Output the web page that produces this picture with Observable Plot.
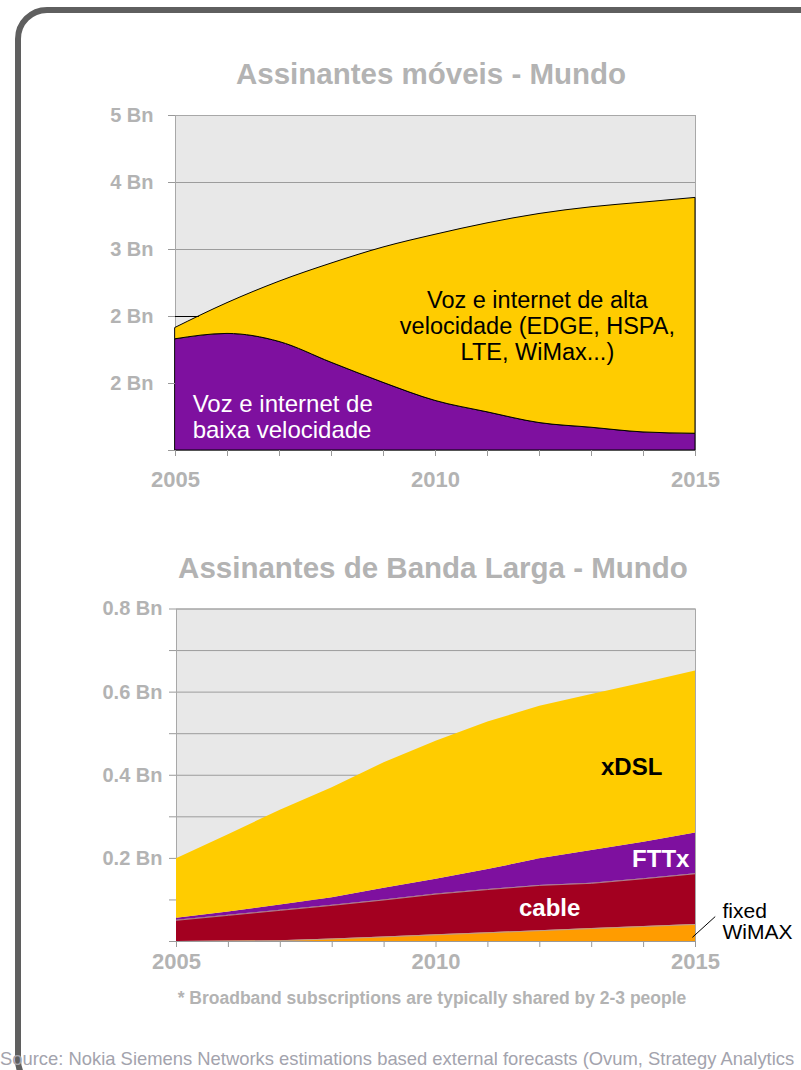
<!DOCTYPE html>
<html><head><meta charset="utf-8">
<script src="https://cdn.jsdelivr.net/npm/d3@7"></script>
<script src="https://cdn.jsdelivr.net/npm/@observablehq/plot@0.6"></script>
<style>
html,body{margin:0;padding:0;background:#fff;width:801px;height:1070px;overflow:hidden;position:relative;font-family:Arial,"Liberation Sans",sans-serif}
#frame{position:absolute;left:15px;top:7px;width:900px;height:1085px;border:6px solid #5f5f5f;border-radius:32px;box-sizing:border-box}
.title{position:absolute;transform:translateX(-50%);white-space:nowrap;font-weight:bold;color:#b3b3b3;font-size:29.5px;line-height:29.5px}
.chart{position:absolute;left:0}
#note{position:absolute;left:432px;top:990px;transform:translateX(-50%);white-space:nowrap;font-weight:bold;color:#b3b3b3;font-size:17.5px;line-height:17.5px}
#source{position:absolute;left:0;top:1050px;white-space:nowrap;color:#a3a3ad;font-size:18.4px;line-height:18.4px}
</style></head>
<body>
<div id="frame"></div>
<div class="title" style="left:431px;top:59px">Assinantes móveis - Mundo</div>
<div class="chart" id="c1" style="top:100px"></div>
<div class="title" style="left:433px;top:553px">Assinantes de Banda Larga - Mundo</div>
<div class="chart" id="c2" style="top:590px"></div>
<div id="note">* Broadband subscriptions are typically shared by 2-3 people</div>
<div id="source">Source: Nokia Siemens Networks estimations based external forecasts (Ovum, Strategy Analytics</div>
<script>
// ---- data ----
const years = [2005, 2006, 2007, 2008, 2009, 2010, 2011, 2012, 2013, 2014, 2015];
const yearLabels = ["2005", "2010", "2015"];

// Mobile subscribers (Bn)
const mobileSeries = ["Voz e internet de baixa velocidade", "Voz e internet de alta velocidade"];
const lowSpeed  = [1.66, 1.74, 1.62, 1.31, 1.01, 0.74, 0.57, 0.41, 0.34, 0.27, 0.25];
const highSpeed = [0.17, 0.46, 0.90, 1.48, 2.02, 2.48, 2.82, 3.12, 3.29, 3.43, 3.52];
const mobileTicks = [0, 1, 2, 3, 4, 5];
const mobileTickLabels = ["", "2 Bn", "2 Bn", "3 Bn", "4 Bn", "5 Bn"];

// Broadband subscribers (Bn)
const bbSeries = ["fixed WiMAX", "cable", "FTTx", "xDSL"];
const wimax = [0.000, 0.001, 0.002, 0.006, 0.011, 0.016, 0.021, 0.026, 0.031, 0.036, 0.041];
const cable = [0.051, 0.062, 0.073, 0.081, 0.089, 0.098, 0.104, 0.109, 0.109, 0.115, 0.122];
const fttx  = [0.005, 0.008, 0.013, 0.018, 0.028, 0.036, 0.048, 0.064, 0.079, 0.088, 0.098];
const xdsl  = [0.143, 0.186, 0.228, 0.265, 0.302, 0.332, 0.355, 0.367, 0.375, 0.383, 0.390];
const bbTicks = [0, 0.1, 0.2, 0.3, 0.4, 0.5, 0.6, 0.7, 0.8];
const bbTickLabels = ["", "", "0.2 Bn", "", "0.4 Bn", "", "0.6 Bn", "", "0.8 Bn"];

// ---- tables ----
const mobileValues = [lowSpeed, highSpeed];
const mobileData = mobileSeries.flatMap((s, i) => years.map((y, j) => ({year: y, series: s, value: mobileValues[i][j]})));
const totals = years.map((y, j) => lowSpeed[j] + highSpeed[j]);
// where the total first crosses the 2 Bn gridline
let cross = years[0];
for (let j = 0; j < years.length - 1; j++) {
  if (totals[j] <= 2 && totals[j + 1] > 2) { cross = years[j] + (2 - totals[j]) / (totals[j + 1] - totals[j]); break; }
}

const bbValues = [wimax, cable, fttx, xdsl];
const bbData = bbSeries.flatMap((s, i) => years.map((y, j) => ({year: y, series: s, value: bbValues[i][j]})));
const bbEdges = [];
let cum = years.map(() => 0);
for (let i = 0; i < 2; i++) {
  cum = cum.map((c, j) => c + bbValues[i][j]);
  years.forEach((y, j) => bbEdges.push({year: y, series: bbSeries[i], top: cum[j]}));
}

const font = "Arial, 'Liberation Sans', sans-serif";
const grey = "#b3b3b3";
const fmtYear = d => yearLabels.includes(String(d)) ? String(d) : "";

const p1 = Plot.plot({
  width: 801, height: 400,
  marginLeft: 175, marginRight: 106, marginTop: 15, marginBottom: 50,
  style: {fontFamily: font, background: "transparent", overflow: "visible"},
  x: {domain: [2005, 2015]},
  y: {domain: [0, 5]},
  color: {domain: mobileSeries, range: ["#7e109f", "#ffcc00"]},
  marks: [
    Plot.frame({fill: "#e8e8e8", stroke: null}),
    Plot.gridY(mobileTicks.slice(1), {stroke: "#9c9c9c", strokeOpacity: 1}),
    Plot.frame({stroke: "#a8a8a8"}),
    Plot.areaY(mobileData, {x: "year", y: "value", z: "series", fill: "series", stroke: "black", strokeWidth: 1, curve: "monotone-x"}),
    Plot.ruleY([2], {x1: years[0], x2: cross, stroke: "black"}),
    Plot.axisY({ticks: mobileTicks, tickFormat: d => mobileTickLabels[mobileTicks.indexOf(d)], tickSize: 7, tickPadding: 15,
      fontSize: 20, fontWeight: "bold", fill: grey, stroke: "#999", label: null}),
    Plot.axisX({ticks: years, tickFormat: fmtYear, tickSize: 6, tickPadding: 15,
      fontSize: 22, fontWeight: "bold", fill: grey, stroke: "#999", label: null}),
    Plot.text(["Voz e internet de alta\nvelocidade (EDGE, HSPA,\nLTE, WiMax...)"], {x: 2011.96, y: 1.86, text: d => d,
      fontSize: 23.5, lineHeight: 1.11, fill: "black", textAnchor: "middle"}),
    Plot.text(["Voz e internet de\nbaixa velocidade"], {x: 2005.33, y: 0.50, text: d => d,
      fontSize: 24, lineHeight: 1.05, fill: "white", textAnchor: "start"})
  ]
});
document.getElementById("c1").appendChild(p1);

const p2 = Plot.plot({
  width: 801, height: 400,
  marginLeft: 176, marginRight: 106, marginTop: 18.5, marginBottom: 49,
  style: {fontFamily: font, background: "transparent", overflow: "visible"},
  x: {domain: [2005, 2015]},
  y: {domain: [0, 0.8]},
  color: {domain: bbSeries, range: ["#ff9c00", "#a30020", "#7e109f", "#ffcc00"]},
  marks: [
    Plot.frame({fill: "#e8e8e8", stroke: null}),
    Plot.gridY(bbTicks.slice(1), {stroke: "#9c9c9c", strokeOpacity: 1}),
    Plot.frame({stroke: "#a8a8a8"}),
    Plot.areaY(bbData, {x: "year", y: "value", z: "series", fill: "series"}),
    Plot.line(bbEdges, {x: "year", y: "top", z: "series", stroke: "#b0a0a8", strokeWidth: 0.8}),
    Plot.ruleY([0], {stroke: "#999"}),
    Plot.axisY({ticks: bbTicks, tickFormat: d => bbTickLabels[bbTicks.indexOf(d)], tickSize: 7, tickPadding: 7,
      fontSize: 20, fontWeight: "bold", fill: grey, stroke: "#999", label: null}),
    Plot.axisX({ticks: years, tickFormat: fmtYear, tickSize: 6, tickPadding: 6,
      fontSize: 22, fontWeight: "bold", fill: grey, stroke: "#999", label: null}),
    Plot.text(["xDSL"], {x: 2013.77, y: 0.419, text: d => d, fontSize: 24, fontWeight: "bold", fill: "black", textAnchor: "middle"}),
    Plot.text(["FTTx"], {x: 2014.33, y: 0.198, text: d => d, fontSize: 24, fontWeight: "bold", fill: "white", textAnchor: "middle"}),
    Plot.text(["cable"], {x: 2012.19, y: 0.0795, text: d => d, fontSize: 24, fontWeight: "bold", fill: "white", textAnchor: "middle"}),
    Plot.link([0], {x1: 2014.94, y1: 0.01, x2: 2015.38, y2: 0.06, stroke: "black", strokeWidth: 1}),
    Plot.text(["fixed\nWiMAX"], {x: 2015.52, y: 0.047, text: d => d, fontSize: 21, lineHeight: 1.0, fill: "black", textAnchor: "start"})
  ]
});
document.getElementById("c2").appendChild(p2);
</script>
</body></html>
